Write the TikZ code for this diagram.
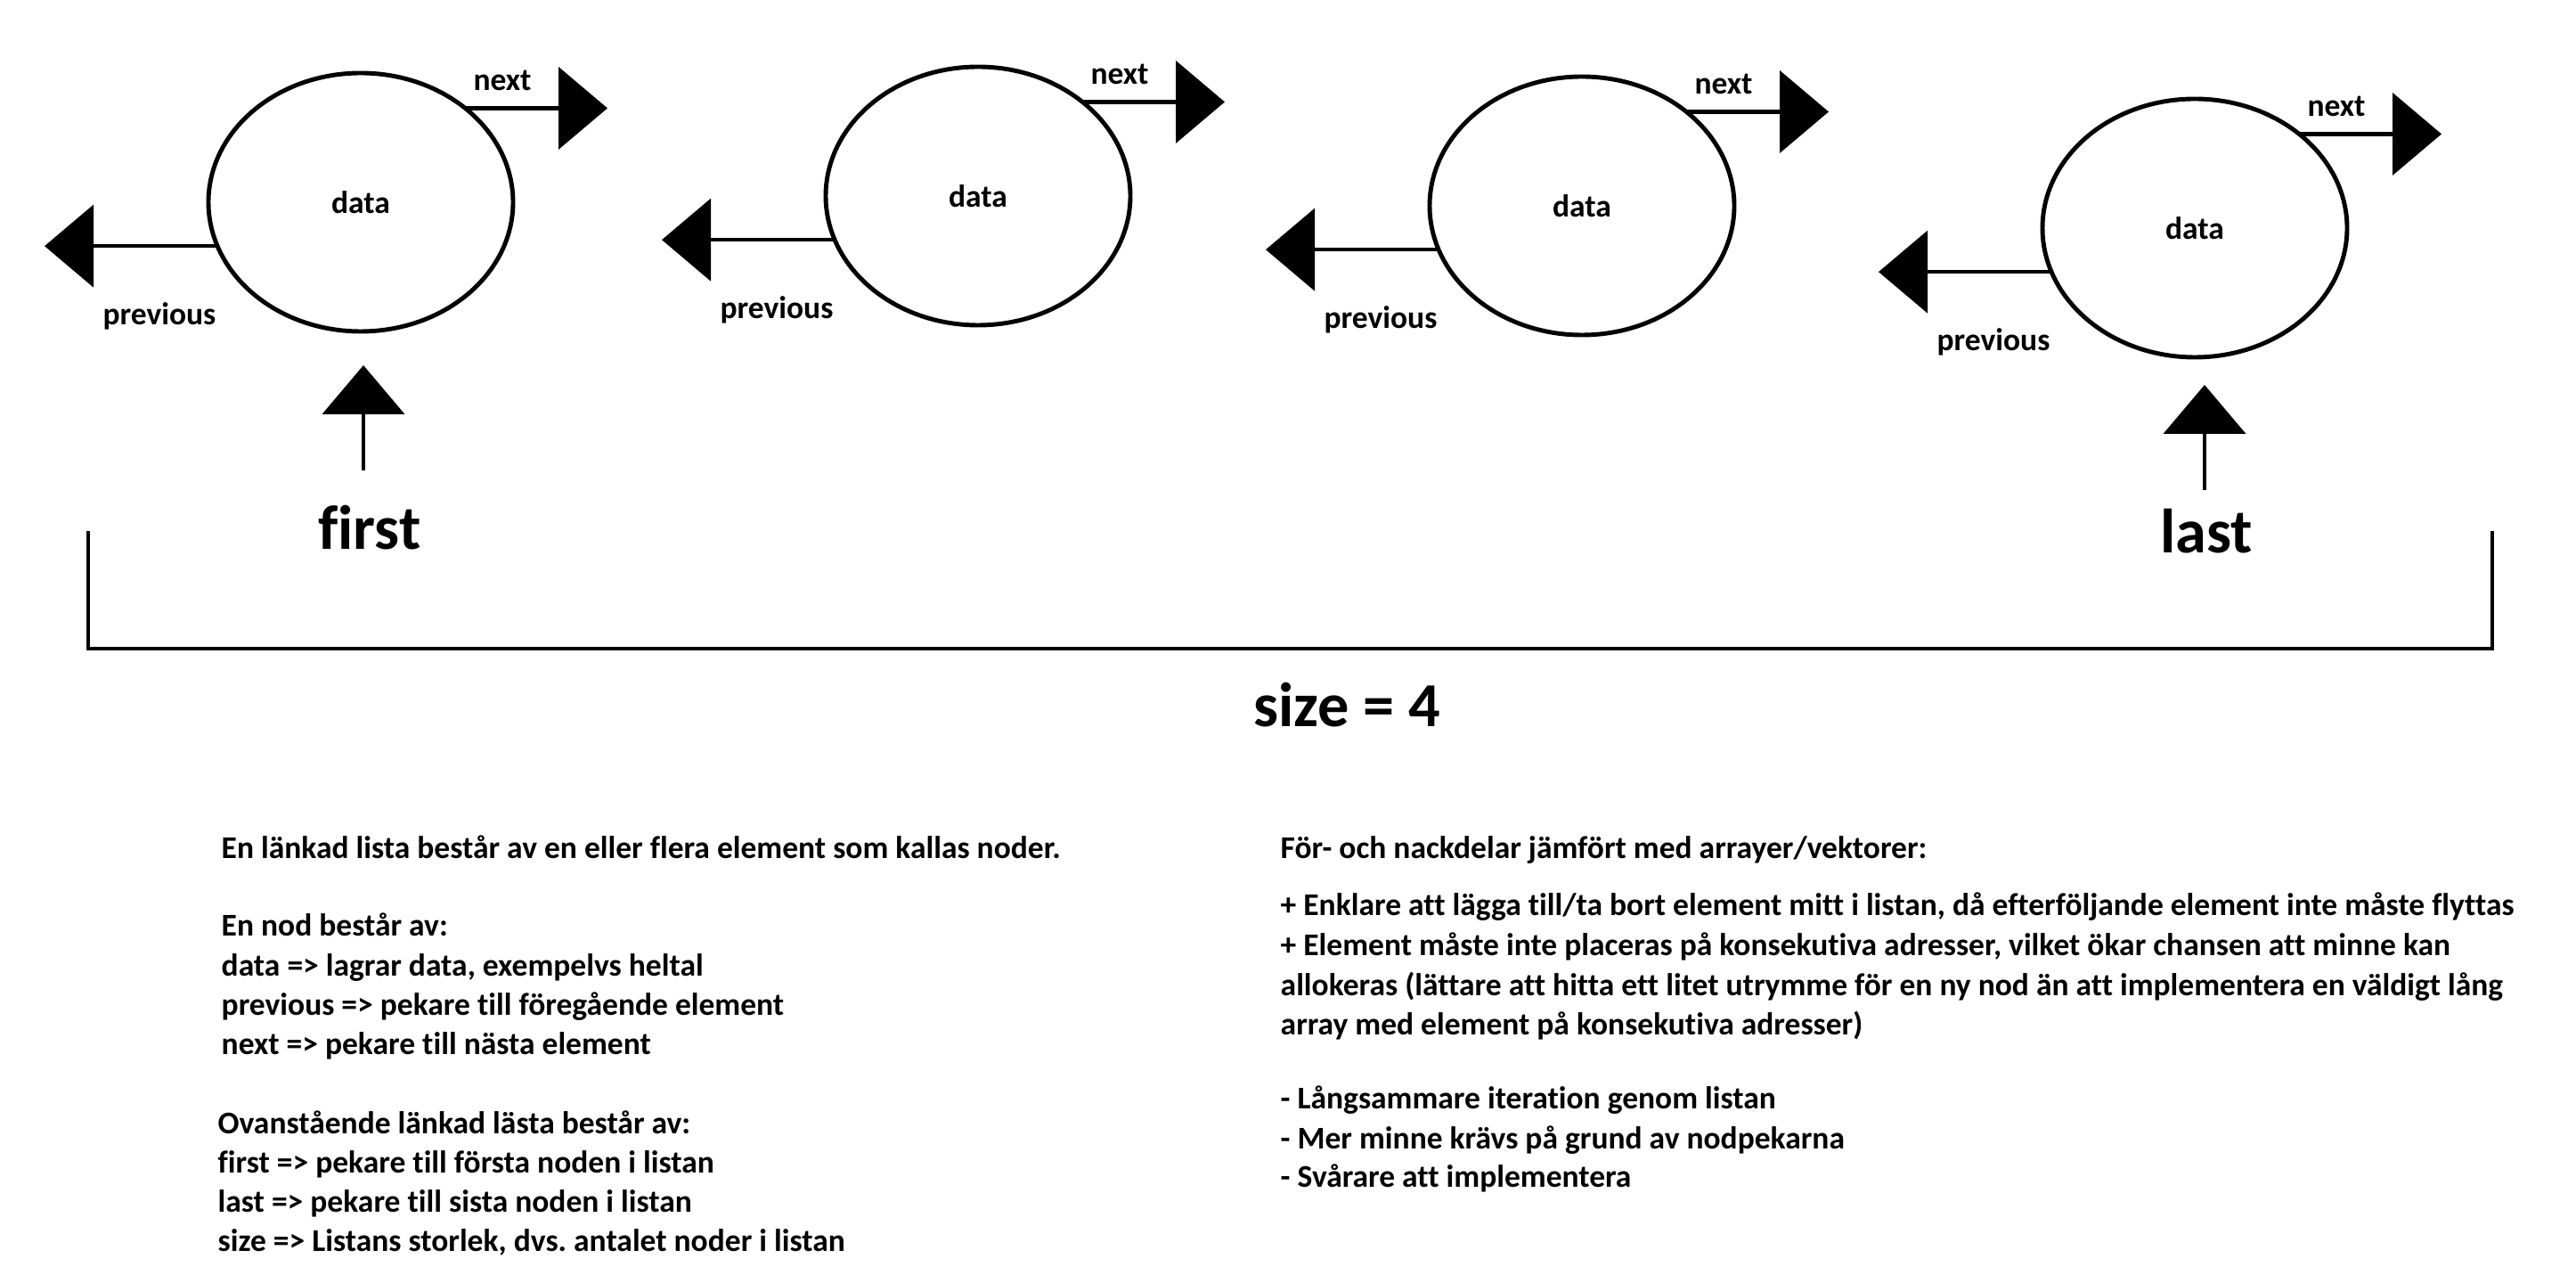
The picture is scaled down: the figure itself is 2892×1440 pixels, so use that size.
\documentclass[tikz,border=0pt]{standalone}
\usepackage{fontspec}
\setmainfont{Carlito}[Ligatures=CommonOff]
\frenchspacing
\usetikzlibrary{arrows.meta,shapes.geometric}
\newcommand\bodyfont{\fontsize{10.1pt}{12pt}\selectfont\bfseries}
\newcommand\bigfont{\fontsize{20pt}{24pt}\selectfont\bfseries}
\tikzset{
  listnode/.style={draw, ellipse, line width=1.4pt, minimum width=3.42cm,
    minimum height=2.90cm, inner sep=0pt, outer sep=0pt, font=\bodyfont},
  ptr/.style={line width=1.3pt, -{Triangle[length=5.5mm, width=9.2mm]}},
  lbl/.style={inner sep=0pt, font=\bodyfont},
  txt/.style={anchor=base west, inner sep=0pt, font=\bodyfont},
  big/.style={anchor=base, inner sep=0pt, font=\bigfont}
}
\begin{document}
\begin{tikzpicture}[x=0.1mm, y=-0.1mm]
  \fill[white] (0,0) rectangle (2892,1440);
  \useasboundingbox (0,0) rectangle (2892,1440);

  % the four nodes of the list
  \foreach \i/\x/\y in {1/405/227, 2/1098/220, 3/1776/231, 4/2464/256} {
    \node[listnode] (n\i) at (\x,\y) {data};
    \coordinate (nexttip\i) at (\x+277,\y);
    \coordinate (prevtip\i) at (\x-355,\y);
    \draw[ptr] (n\i.42) -- (n\i.42 -| nexttip\i);
    \draw[ptr] (n\i.197) -- (n\i.197 -| prevtip\i);
    \node[lbl] (next\i) at (\x+159,\y-137) {next};
    \node[lbl] (prev\i) at (\x-226,\y+128) {previous};
  }

  % first and last
  \node[big] (first) at (415,617) {first};
  \node[big] (last) at (2477,621) {last};
  \coordinate (firsttail) at (408,528);
  \coordinate (lasttail) at (2475,550);
  \draw[ptr, shorten >=3.8mm] (firsttail) -- (firsttail |- n1.south);
  \draw[ptr, shorten >=3.1mm] (lasttail) -- (lasttail |- n4.south);

  % size bracket
  \draw[line width=1.3pt] (99,596) -- (99,728) -- (2798,728) -- (2798,596);
  \node[big] (size) at (1512,816) {size = 4};

  % explanations
  \foreach \y/\t [count=\k] in {
      963/{En länkad lista består av en eller flera element som kallas noder.},
      1051/{En nod består av:},
      1095/{data => lagrar data, exempelvs heltal},
      1139/{previous => pekare till föregående element},
      1183/{next => pekare till nästa element}}
    \node[txt] (left\k) at (248,\y) {\t};
  \foreach \y/\t [count=\k] in {
      1272/{Ovanstående länkad lästa består av:},
      1316/{first => pekare till första noden i listan},
      1360/{last => pekare till sista noden i listan},
      1404/{size => Listans storlek, dvs. antalet noder i listan}}
    \node[txt] (own\k) at (244,\y) {\t};
  \foreach \y/\t [count=\k] in {
      963/{För- och nackdelar jämfört med arrayer/vektorer:},
      1028/{+ Enklare att lägga till/ta bort element mitt i listan, då efterföljande element inte måste flyttas},
      1072/{+ Element måste inte placeras på konsekutiva adresser, vilket ökar chansen att minne kan},
      1117/{allokeras (lättare att hitta ett litet utrymme för en ny nod än att implementera en väldigt lång},
      1161/{array med element på konsekutiva adresser)},
      1244/{- Långsammare iteration genom listan},
      1289/{- Mer minne krävs på grund av nodpekarna},
      1332/{- Svårare att implementera}}
    \node[txt] (pro\k) at (1437,\y) {\t};
\end{tikzpicture}
\end{document}
